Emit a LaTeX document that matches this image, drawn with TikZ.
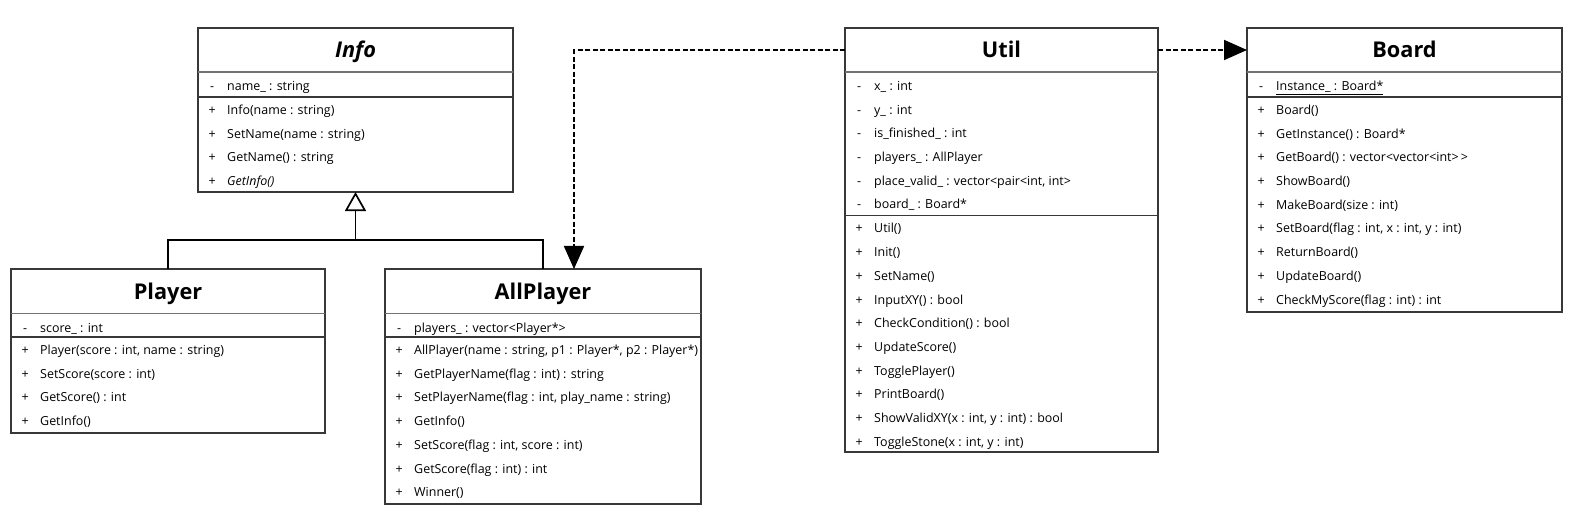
\documentclass[tikz,border=0pt]{standalone}
\usepackage{fontspec}
\setmainfont{Open Sans}
\usetikzlibrary{arrows.meta,calc}
\newcommand\umlpub{\makebox[14bp]{+}\hspace{8bp}}
\newcommand\umlpriv{\makebox[14bp]{-}\hspace{8bp}}
\begin{document}
\begin{tikzpicture}[x=1bp,y=-1bp,
  umlbox/.style={draw=black!78, line width=1.2bp, inner sep=0, outer sep=0, fill=white},
  secline/.style={draw=black!78, line width=1.1bp},
  ttlline/.style={draw=black!55, line width=1.6bp},
  umltitle/.style={inner sep=0, outer sep=0, minimum height=44bp, text height=15.5bp, text depth=0bp,
    font=\fontsize{21.8}{26}\selectfont\bfseries},
  umlrow/.style={anchor=base west, inner sep=0, font=\fontsize{12.5}{15}\selectfont},
  genline/.style={draw=black, line width=1.7bp},
  depline/.style={draw=black, line width=1.8bp, dash pattern=on 5bp off 2.5bp,
    -{Triangle[width=20bp,length=23bp]}}
]
\useasboundingbox (0,0) rectangle (1579,521);

% ---------- boxes ----------
\node[umlbox, minimum width=315bp, minimum height=164bp] (info) at (355.5,110) {};
\node[umlbox, minimum width=314bp, minimum height=164bp] (player) at (168,351) {};
\node[umlbox, minimum width=316bp, minimum height=235bp] (allplayer) at (543,386.5) {};
\node[umlbox, minimum width=313bp, minimum height=424bp] (util) at (1001.5,240) {};
\node[umlbox, minimum width=315bp, minimum height=284bp] (board) at (1404.5,170) {};

% ---------- titles ----------
\node[umltitle, minimum width=315bp] (infoT) at (355.5,50) {\textit{Info}};
\node[umltitle, minimum width=314bp] (playerT) at (168,291.5) {Player};
\node[umltitle, minimum width=316bp] (allplayerT) at (543,291.5) {AllPlayer};
\node[umltitle, minimum width=313bp] (utilT) at (1001.5,50) {Util};
\node[umltitle, minimum width=315bp] (boardT) at (1404.5,50) {Board};

% ---------- separators ----------
\foreach \n in {infoT,playerT,allplayerT,utilT,boardT}
  \draw[ttlline] (\n.south west) -- (\n.south east);
\draw[secline] (198,97) -- (513,97);
\draw[secline] (11,337) -- (325,337);
\draw[secline] (385,337) -- (701,337);
\draw[secline] (845,215.5) -- (1158,215.5);
\draw[secline] (1247,97) -- (1562,97);

% ---------- Info ----------
\node[umlrow] (infoA0) at (205,90.5) {\umlpriv name\_ : string};
\foreach \t [count=\k from 0] in {{Info(name : string)},{SetName(name : string)},{GetName() : string},{\textit{GetInfo()}}}
  \node[umlrow] (infoM\k) at (205,97+17.5+23.7*\k) {\umlpub\t};

% ---------- Player ----------
\node[umlrow] (playerA0) at (18,332.5) {\umlpriv score\_ : int};
\foreach \t [count=\k from 0] in {{Player(score : int, name : string)},{SetScore(score : int)},{GetScore() : int},{GetInfo()}}
  \node[umlrow] (playerM\k) at (18,337+17.5+23.7*\k) {\umlpub\t};

% ---------- AllPlayer ----------
\node[umlrow] (allplayerA0) at (392,332.5) {\umlpriv players\_ : vector<Player*>};
\foreach \t [count=\k from 0] in {{AllPlayer(name : string, p1 : Player*, p2 : Player*)},{GetPlayerName(flag : int) : string},{SetPlayerName(flag : int, play\_name : string)},{GetInfo()},{SetScore(flag : int, score : int)},{GetScore(flag : int) : int},{Winner()}}
  \node[umlrow] (allplayerM\k) at (392,337+17.5+23.7*\k) {\umlpub\t};

% ---------- Util ----------
\foreach \t [count=\k from 0] in {{x\_ : int},{y\_ : int},{is\_finished\_ : int},{players\_ : AllPlayer},{place\_valid\_ : vector<pair<int, int>},{board\_ : Board*}}
  \node[umlrow] (utilA\k) at (852,72+18.5+23.7*\k) {\umlpriv\t};
\foreach \t [count=\k from 0] in {{Util()},{Init()},{SetName()},{InputXY() : bool},{CheckCondition() : bool},{UpdateScore()},{TogglePlayer()},{PrintBoard()},{ShowValidXY(x : int, y : int) : bool},{ToggleStone(x : int, y : int)}}
  \node[umlrow] (utilM\k) at (852,215.5+17.5+23.7*\k) {\umlpub\t};

% ---------- Board ----------
\node[umlrow] (boardA0) at (1254,90.5) {\umlpriv\underline{Instance\_ : Board*}};
\foreach \t [count=\k from 0] in {{Board()},{GetInstance() : Board*},{GetBoard() : vector<vector<int>{}\,>},{ShowBoard()},{MakeBoard(size : int)},{SetBoard(flag : int, x : int, y : int)},{ReturnBoard()},{UpdateBoard()},{CheckMyScore(flag : int) : int}}
  \node[umlrow] (boardM\k) at (1254,97+17.5+23.7*\k) {\umlpub\t};

% ---------- connectors ----------
\coordinate (gbar) at (info.south |- 0,240);
\draw[genline] (player.north) |- (gbar);
\draw[genline] (allplayer.north) |- (gbar);
\draw[genline, -{Triangle[open, width=21bp, length=19bp, fill=white]}] (gbar) -- (info.south);

\draw[depline] (utilT.west) -| ($(allplayer.north)+(31,0)$);
\draw[depline] (utilT.east) -- (boardT.west);
\end{tikzpicture}
\end{document}
